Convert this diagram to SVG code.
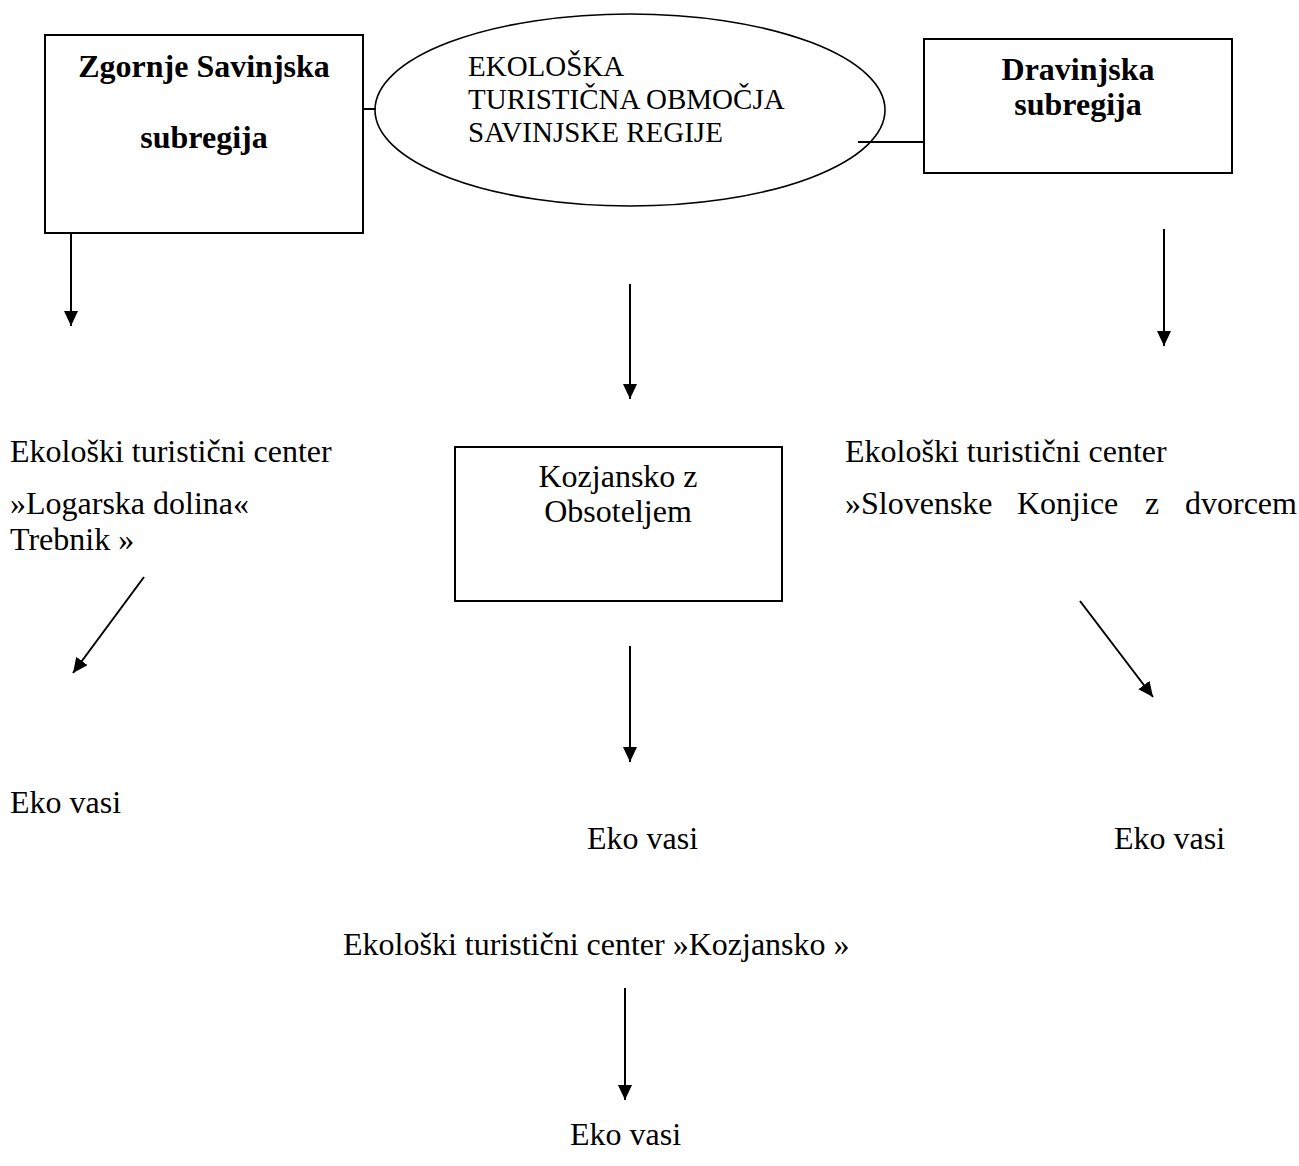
<svg xmlns="http://www.w3.org/2000/svg" width="1299" height="1166" viewBox="0 0 1299 1166">
<style>
.t{font-family:"Liberation Serif","Times New Roman",serif;font-size:32px;fill:#000}
.b{font-weight:bold;text-anchor:middle}
.e{font-size:29px}
.m{text-anchor:middle}
.box{fill:#fff;stroke:#000;stroke-width:2}
.ln{stroke:#000;stroke-width:2;fill:none}
</style>
<defs>
<marker id="ah" markerUnits="userSpaceOnUse" markerWidth="16" markerHeight="14" refX="15" refY="7" orient="auto">
<path d="M0,0 L15,7 L0,14 z" fill="#000"/>
</marker>
</defs>
<rect width="1299" height="1166" fill="#fff"/>
<g id="connectors">
<line class="ln" x1="363" y1="109" x2="376" y2="109"/>
<line class="ln" x1="858" y1="142" x2="924" y2="142" stroke-width="2.6"/>
<line class="ln" x1="71" y1="229" x2="71" y2="326" marker-end="url(#ah)"/>
<line class="ln" x1="630" y1="284" x2="630" y2="399" marker-end="url(#ah)"/>
<line class="ln" x1="1164" y1="229" x2="1164" y2="346" marker-end="url(#ah)"/>
<line class="ln" x1="144" y1="577" x2="73" y2="673" marker-end="url(#ah)"/>
<line class="ln" x1="1080" y1="601" x2="1153" y2="697" marker-end="url(#ah)"/>
<line class="ln" x1="630" y1="646" x2="630" y2="762" marker-end="url(#ah)"/>
<line class="ln" x1="625" y1="988" x2="625" y2="1100" marker-end="url(#ah)"/>
</g>
<g id="node-zgornje">
<rect class="box" x="45" y="35" width="318" height="198"/>
<text class="t b" x="204" y="77">Zgornje Savinjska</text>
<text class="t b" x="204" y="148">subregija</text>
</g>
<g id="node-center">
<ellipse cx="630" cy="110" rx="255" ry="96" fill="none" stroke="#000" stroke-width="1.6"/>
<text class="t e" x="468" y="76">EKOLOŠKA</text>
<text class="t e" x="468" y="109">TURISTIČNA OBMOČJA</text>
<text class="t e" x="468" y="142">SAVINJSKE REGIJE</text>
</g>
<g id="node-dravinjska">
<rect class="box" x="924" y="39" width="308" height="134"/>
<text class="t b" x="1078" y="80">Dravinjska</text>
<text class="t b" x="1078" y="115">subregija</text>
</g>
<g id="node-logarska">
<text class="t" x="10" y="462">Ekološki turistični center</text>
<text class="t" x="10" y="514">»Logarska dolina«</text>
<text class="t" x="10" y="550">Trebnik »</text>
</g>
<g id="node-kozjansko">
<rect class="box" x="455" y="447" width="327" height="154"/>
<text class="t m" x="618" y="487">Kozjansko z</text>
<text class="t m" x="618" y="522">Obsoteljem</text>
</g>
<g id="node-konjice">
<text class="t" x="845" y="462">Ekološki turistični center</text>
<text class="t" y="514"><tspan x="845">»Slovenske</tspan><tspan x="1017">Konjice</tspan><tspan x="1145">z</tspan><tspan x="1185">dvorcem</tspan></text>
</g>
<g id="node-eko1"><text class="t" x="10" y="813">Eko vasi</text></g>
<g id="node-eko2"><text class="t" x="587" y="849">Eko vasi</text></g>
<g id="node-eko3"><text class="t" x="1114" y="849">Eko vasi</text></g>
<g id="node-etc-kozjansko"><text class="t" x="343" y="955">Ekološki turistični center »Kozjansko »</text></g>
<g id="node-eko4"><text class="t" x="570" y="1145">Eko vasi</text></g>
</svg>
